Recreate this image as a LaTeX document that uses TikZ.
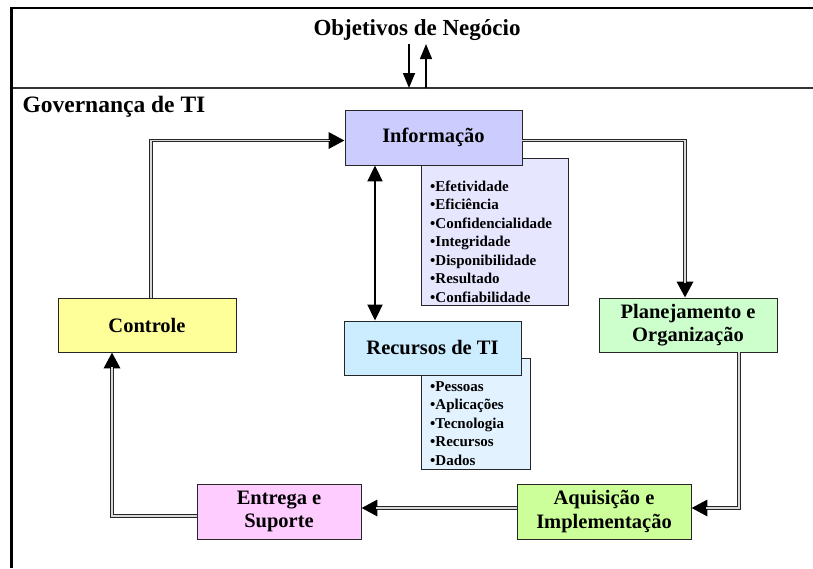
\documentclass[tikz,border=0pt]{standalone}
\usepackage{fontspec}
\setmainfont{Liberation Serif}
\usetikzlibrary{arrows.meta,calc}

\definecolor{infofill}{RGB}{204,204,255}
\definecolor{infolist}{RGB}{230,230,255}
\definecolor{recfill}{RGB}{204,236,255}
\definecolor{reclist}{RGB}{227,242,255}
\definecolor{ctrlfill}{RGB}{255,255,153}
\definecolor{planfill}{RGB}{204,255,204}
\definecolor{entfill}{RGB}{255,204,255}
\definecolor{aqfill}{RGB}{204,255,153}

\tikzset{
  procbox/.style={draw=black!85, line width=0.9pt, rectangle, inner sep=0pt,
    align=center, font=\fontsize{20.5}{23.5}\selectfont\bfseries},
  listbox/.style={draw=black!85, line width=0.9pt, rectangle, inner sep=0pt},
  listtext/.style={anchor=west, align=left, inner sep=0pt,
    font=\fontsize{15}{18.5}\selectfont\bfseries},
  % hollow double connector: dark outer stroke with a light core
  flow/.style={draw=black!85, line width=3.4pt,
    -{Triangle[length=16pt,width=16pt,color=black]},
    postaction={draw=gray!30, line width=1.6pt, -, shorten >=15pt}},
  link/.style={draw=black, line width=2pt,
    {Triangle[length=16pt,width=15pt]}-{Triangle[length=16pt,width=15pt]}},
  goal/.style={draw=black, line width=1.6pt, -{Triangle[length=15pt,width=12pt]}},
}

\begin{document}
\begin{tikzpicture}[x=1pt,y=-1pt]
  \useasboundingbox (0,0) rectangle (813,568);
  \fill[white] (0,0) rectangle (813,568);

  % frame of the two areas
  \draw[line width=2.4pt] (10,8) -- (813,8);
  \draw[line width=1.8pt, black!80] (10,88) -- (813,88);
  \draw[line width=3pt] (11,7) -- (11,568);
  \coordinate (gov) at (417,88);

  % titles
  \node[font=\fontsize{23}{25}\selectfont\bfseries] (obj) at (417,30) {Objetivos de Negócio};
  \node[anchor=west, font=\fontsize{23.5}{25}\selectfont\bfseries] (govtitle) at (19,107) {Governança de TI};

  % information criteria
  \node[listbox, fill=infolist, minimum width=147pt, minimum height=147pt] (infol) at (494.5,231.5) {};
  \node[listtext] (infotxt) at (430,241.5) {•Efetividade\\•Eficiência\\•Confidencialidade\\•Integridade\\•Disponibilidade\\•Resultado\\•Confiabilidade};
  \node[procbox, fill=infofill, minimum width=177pt, minimum height=55pt] (info) at (433.5,137.5) {Informação};

  % IT resources
  \node[listbox, fill=reclist, minimum width=109pt, minimum height=111pt] (recl) at (475.5,413.5) {};
  \node[listtext] (rectxt) at (430,423.5) {•Pessoas\\•Aplicações\\•Tecnologia\\•Recursos\\•Dados};
  \node[procbox, fill=recfill, minimum width=177pt, minimum height=54pt] (rec) at (432.5,348) {Recursos de TI};

  % process domains
  \node[procbox, fill=ctrlfill, minimum width=178pt, minimum height=54pt] (ctrl) at (147,325) {Controle};
  \node[procbox, fill=planfill, minimum width=178pt, minimum height=54pt] (plan) at (688,325) {Planejamento e\\Organização};
  \node[procbox, fill=entfill, minimum width=164pt, minimum height=55pt] (ent) at (279,511.5) {Entrega e\\Suporte};
  \node[procbox, fill=aqfill, minimum width=174pt, minimum height=55pt] (aq) at (604,511.5) {Aquisição e\\Implementação};

  % cycle
  \draw[flow] ([xshift=4pt]ctrl.north) |- ([yshift=-3pt]info.west);
  \draw[flow] ([yshift=-3pt]info.east) -| ([xshift=-3pt]plan.north);
  \draw[flow] ([xshift=51pt]plan.south) |- ([yshift=3.5pt]aq.east);
  \draw[flow] ([yshift=3.5pt]aq.west) -- ([yshift=3.5pt]ent.east);
  \draw[flow] ([yshift=-4.5pt]ent.west) -| ([xshift=-35pt]ctrl.south);

  % information <-> resources
  \draw[link] ([xshift=-58.5pt]info.south) -- ([xshift=-57.5pt]rec.north);

  % business goals
  \draw[goal] ([xshift=-8pt]obj.south) -- ([xshift=-8pt]gov);
  \draw[goal] ([xshift=9pt]gov) -- ([xshift=9pt]obj.south);
\end{tikzpicture}
\end{document}
